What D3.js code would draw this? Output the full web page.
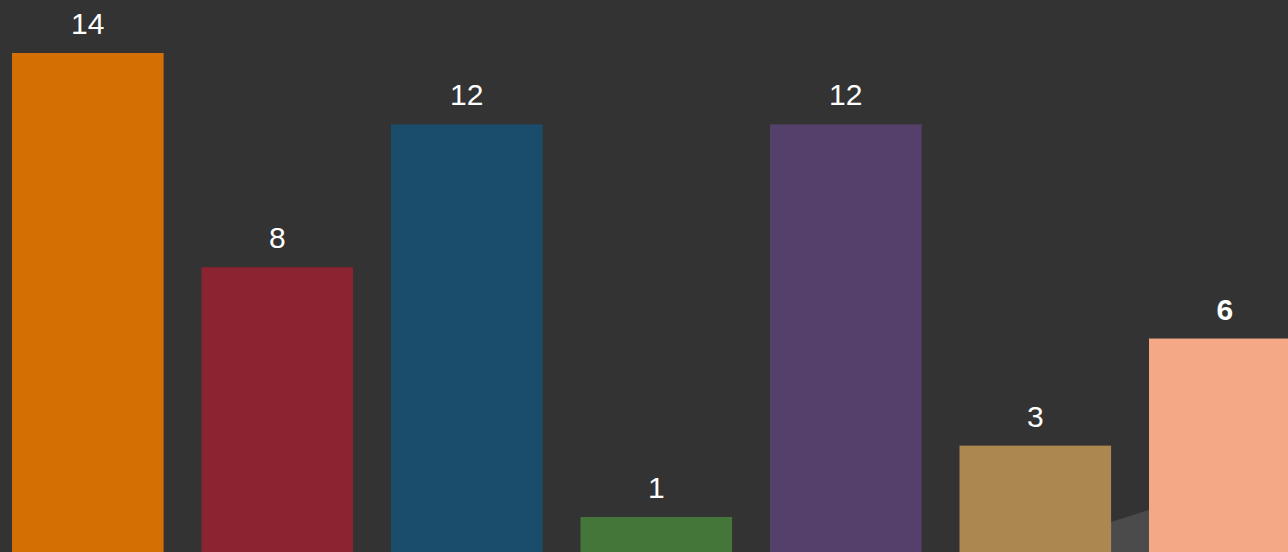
<!DOCTYPE html>
<html><head><meta charset="utf-8">
<script src="https://cdn.jsdelivr.net/npm/d3@7"></script>
<style>html,body{margin:0;padding:0;background:#333333;overflow:hidden}svg{display:block}</style>
</head><body>
<script>
const categories = ["A","B","C","D","E","F","G"];
const values = [14, 8, 12, 1, 12, 3, 6];
const colors = ["#D46F03","#8B2331","#1A4D6B","#44763A","#55406B","#AB8850","#F4A886"];
const highlighted = "G";
// faint backdrop wedge visible between the last two bars (value units)
const wedge = [{x:"F", v:0.86},{x:"G", v:1.2}];

const W = 1288, H = 552;
const svg = d3.select("body").append("svg").attr("width", W).attr("height", H);
svg.append("rect").attr("width", W).attr("height", H).attr("fill", "#333333");

const x = d3.scaleBand().domain(categories).range([-6.95, 1319.55]).paddingInner(0.2).paddingOuter(0.1);
const y = d3.scaleLinear().domain([0, 14]).range([552.7, 53]);

// backdrop wedge
const x1 = x(wedge[0].x) + x.bandwidth(), x2 = x(wedge[1].x);
const slope = (y(wedge[1].v) - y(wedge[0].v)) / (x2 - x1);
const xa = x1 - 200, xb = x2 + 200;
svg.append("polygon")
  .attr("points", [[xa, y(wedge[0].v) - slope*200],[xb, y(wedge[1].v) + slope*200],[xb, H],[xa, H]].map(p=>p.join(",")).join(" "))
  .attr("fill", "#4B4B4B");

svg.selectAll("rect.bar").data(categories).join("rect")
  .attr("class","bar")
  .attr("x", d => x(d))
  .attr("width", x.bandwidth())
  .attr("y", (d,i) => y(values[i]))
  .attr("height", (d,i) => y(0) - y(values[i]))
  .attr("fill", (d,i) => colors[i]);

svg.selectAll("text.lbl").data(categories).join("text")
  .attr("class","lbl")
  .attr("x", d => x(d) + x.bandwidth()/2)
  .attr("y", (d,i) => y(values[i]) - 19)
  .attr("text-anchor","middle")
  .attr("fill","#ffffff")
  .attr("font-family","'Liberation Sans', Arial, sans-serif")
  .attr("font-size", 30)
  .attr("font-weight", d => d === highlighted ? "bold" : "normal")
  .text((d,i) => values[i]);
</script>
</body></html>
